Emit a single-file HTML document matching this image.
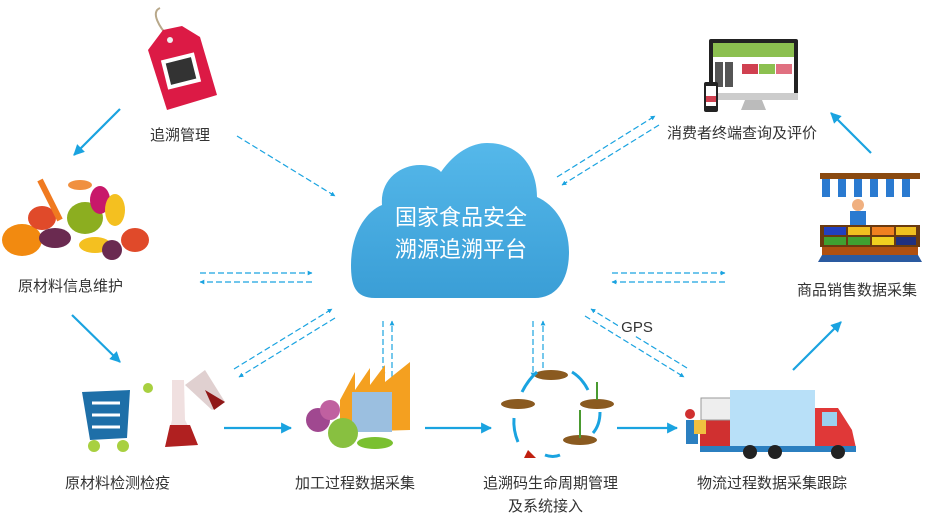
<!DOCTYPE html>
<html><head><meta charset="utf-8"><style>
html,body{margin:0;padding:0;background:#fff;}
svg text{font-family:"Liberation Sans","Noto Sans CJK SC",sans-serif;}
</style></head><body>
<svg width="925" height="513" viewBox="0 0 925 513" xmlns="http://www.w3.org/2000/svg">
<defs>
<marker id="a" viewBox="0 0 10 10" refX="9" refY="5" markerWidth="5" markerHeight="5" orient="auto"><path d="M0,0L10,5L0,10z" fill="#1aa3e0"/></marker>
<marker id="d" viewBox="0 0 10 10" refX="9" refY="5" markerWidth="4" markerHeight="4" orient="auto"><path d="M0,0L10,5L0,10z" fill="#1aa3e0"/></marker>
<linearGradient id="cg" x1="0" y1="0" x2="0" y2="1"><stop offset="0" stop-color="#55b8ea"/><stop offset="1" stop-color="#3a9ed6"/></linearGradient>
</defs>
<!-- cloud -->
<path d="M375,298 C355,298 351,285 351,265 C351,235 365,212 382,205 C380,180 400,165 420,165 C430,165 438,168 441,172 C455,152 472,143 487,143 C520,143 537,168 537,197 C555,205 569,225 569,252 C569,282 555,298 535,298 Z" fill="url(#cg)"/>
<text x="461" y="225" fill="#fff" font-size="22" text-anchor="middle">国家食品安全</text>
<text x="461" y="257" fill="#fff" font-size="22" text-anchor="middle">溯源追溯平台</text>
<!-- solid arrows -->
<g stroke="#1aa3e0" stroke-width="2.2" fill="none" marker-end="url(#a)">
<line x1="120" y1="109" x2="74" y2="155"/>
<line x1="72" y1="315" x2="120" y2="362"/>
<line x1="224" y1="428" x2="291" y2="428"/>
<line x1="425" y1="428" x2="491" y2="428"/>
<line x1="617" y1="428" x2="677" y2="428"/>
<line x1="793" y1="370" x2="841" y2="322"/>
<line x1="871" y1="153" x2="831" y2="113"/>
</g>
<!-- dashed -->
<g stroke="#1aa3e0" stroke-width="1.2" stroke-dasharray="6,3" fill="none" marker-end="url(#d)">
<line x1="237" y1="136" x2="335" y2="196"/>
<line x1="557" y1="177" x2="655" y2="116"/>
<line x1="659" y1="125" x2="562" y2="185"/>
<line x1="200" y1="273" x2="312" y2="273"/>
<line x1="312" y1="282" x2="200" y2="282"/>
<line x1="612" y1="273" x2="725" y2="273"/>
<line x1="725" y1="282" x2="612" y2="282"/>
<line x1="234" y1="369" x2="332" y2="309"/>
<line x1="335" y1="318" x2="239" y2="377"/>
<line x1="383" y1="321" x2="383" y2="377"/>
<line x1="392" y1="377" x2="392" y2="321"/>
<line x1="533" y1="321" x2="533" y2="377"/>
<line x1="543" y1="377" x2="543" y2="321"/>
<line x1="687" y1="368" x2="591" y2="309"/>
<line x1="585" y1="316" x2="684" y2="377"/>
</g>
<rect x="618" y="316" width="40" height="20" fill="#fff"/>
<text x="637" y="332" font-size="15" fill="#333" text-anchor="middle">GPS</text>
<!-- tag -->
<path d="M160,8 C150,12 160,28 168,36" stroke="#b8a88a" stroke-width="2" fill="none"/>
<polygon points="148,50 163,30 182,26 200,37 217,95 167,110" fill="#dc1a45"/>
<circle cx="170" cy="40" r="3" fill="#eee"/>
<rect x="164" y="56" width="34" height="30" fill="#fff" transform="rotate(-14 181 71)"/>
<rect x="168" y="60" width="26" height="22" fill="#333" transform="rotate(-14 181 71)"/>
<!-- vegetables -->
<ellipse cx="22" cy="240" rx="20" ry="16" fill="#f28a10"/>
<ellipse cx="42" cy="218" rx="14" ry="12" fill="#e04a2a"/>
<ellipse cx="85" cy="218" rx="18" ry="16" fill="#8cae20"/>
<ellipse cx="55" cy="238" rx="16" ry="10" fill="#6a2a50"/>
<ellipse cx="100" cy="200" rx="10" ry="14" fill="#c8186a"/>
<ellipse cx="115" cy="210" rx="10" ry="16" fill="#f4c020"/>
<ellipse cx="135" cy="240" rx="14" ry="12" fill="#e04a2a"/>
<ellipse cx="95" cy="245" rx="16" ry="8" fill="#f4c020"/>
<ellipse cx="80" cy="185" rx="12" ry="5" fill="#f09040"/>
<line x1="40" y1="180" x2="60" y2="220" stroke="#f07a20" stroke-width="6"/>
<ellipse cx="112" cy="250" rx="10" ry="10" fill="#6a2a50"/>
<!-- cart & flask -->
<path d="M82,392 L130,390 L127,438 L90,440 Z" fill="#1e6fa8"/>
<g stroke="#fff" stroke-width="3"><line x1="92" y1="403" x2="120" y2="403"/><line x1="92" y1="415" x2="120" y2="415"/><line x1="92" y1="427" x2="120" y2="427"/></g>
<circle cx="94" cy="446" r="6" fill="#a8d040"/><circle cx="123" cy="446" r="6" fill="#a8d040"/><circle cx="148" cy="388" r="5" fill="#a8d040"/>
<path d="M172,380 L184,380 L185,420 L198,445 L165,447 L172,420 Z" fill="#f0e0e0"/>
<path d="M170,425 L190,425 L198,445 L165,447 Z" fill="#b02020"/>
<path d="M185,385 L205,370 L225,402 L212,410 Z" fill="#e0d0d0"/><path d="M205,390 L225,402 L214,410 Z" fill="#901818"/>
<!-- factory -->
<path d="M340,400 L355,372 L355,390 L370,368 L370,385 L385,365 L385,382 L410,362 L410,430 L340,432 Z" fill="#f4a020"/>
<rect x="352" y="392" width="40" height="40" fill="#9bbfe0"/>
<circle cx="318" cy="420" r="12" fill="#a04890"/><circle cx="330" cy="410" r="10" fill="#c060a0"/>
<circle cx="343" cy="433" r="15" fill="#88c040"/><ellipse cx="375" cy="443" rx="18" ry="6" fill="#7ac030"/>
<!-- lifecycle -->
<g fill="#8a5a20"><ellipse cx="551" cy="375" rx="17" ry="5"/><ellipse cx="518" cy="404" rx="17" ry="5"/><ellipse cx="597" cy="404" rx="17" ry="5"/><ellipse cx="580" cy="440" rx="17" ry="5"/></g>
<path d="M528,450 L536,458 L524,458 Z" fill="#c02010"/>
<g stroke="#1aa3e0" stroke-width="3" fill="none"><path d="M522,392 Q528,380 537,372"/><path d="M572,372 Q582,378 588,390"/><path d="M600,412 Q600,425 593,433"/><path d="M514,418 Q513,430 518,442"/><path d="M545,455 Q553,458 560,455"/></g>
<line x1="580" y1="438" x2="580" y2="410" stroke="#4a9a30" stroke-width="2"/><line x1="597" y1="400" x2="597" y2="382" stroke="#4a9a30" stroke-width="2"/>
<!-- truck -->
<rect x="700" y="420" width="30" height="30" fill="#d03030"/>
<rect x="701" y="398" width="30" height="22" fill="#eee" stroke="#999"/>
<rect x="730" y="390" width="85" height="58" fill="#b8e0f8"/>
<path d="M815,408 L838,408 L852,430 L856,448 L815,448 Z" fill="#e03838"/>
<rect x="822" y="412" width="15" height="14" fill="#9cd0ee"/>
<rect x="700" y="446" width="156" height="6" fill="#2b7fc0"/>
<g fill="#222"><circle cx="750" cy="452" r="7"/><circle cx="775" cy="452" r="7"/><circle cx="838" cy="452" r="7"/></g>
<rect x="686" y="420" width="12" height="24" fill="#2b7fc0"/><circle cx="690" cy="414" r="5" fill="#d03030"/><rect x="694" y="420" width="12" height="14" fill="#f0c040"/>
<!-- monitor -->
<rect x="709" y="39" width="89" height="61" rx="2" fill="#222"/>
<rect x="713" y="43" width="81" height="50" fill="#fff"/>
<rect x="713" y="43" width="81" height="14" fill="#8cc050"/>
<rect x="715" y="62" width="8" height="25" fill="#555"/><rect x="725" y="62" width="8" height="25" fill="#555"/>
<rect x="742" y="64" width="16" height="10" fill="#d04050"/><rect x="759" y="64" width="16" height="10" fill="#8cc050"/><rect x="776" y="64" width="16" height="10" fill="#e07080"/>
<rect x="709" y="93" width="89" height="7" fill="#ccc"/>
<path d="M745,100 L762,100 L766,110 L741,110 Z" fill="#bbb"/>
<rect x="704" y="82" width="14" height="30" rx="2" fill="#222"/><rect x="706" y="86" width="10" height="20" fill="#fff"/><rect x="706" y="96" width="10" height="6" fill="#d04050"/>
<!-- stall -->
<rect x="820" y="173" width="100" height="6" fill="#8a4a10"/>
<g><rect x="820" y="179" width="100" height="18" fill="#fff"/>
<g fill="#2a7ad0"><rect x="822" y="179" width="8" height="18"/><rect x="838" y="179" width="8" height="18"/><rect x="854" y="179" width="8" height="18"/><rect x="870" y="179" width="8" height="18"/><rect x="886" y="179" width="8" height="18"/><rect x="902" y="179" width="8" height="18"/></g></g>
<circle cx="858" cy="205" r="6" fill="#f0b080"/><rect x="850" y="211" width="16" height="14" fill="#2a7ad0"/>
<rect x="820" y="225" width="100" height="22" fill="#6a3a10"/>
<rect x="824" y="227" width="22" height="8" fill="#2040c0"/><rect x="848" y="227" width="22" height="8" fill="#f0c020"/><rect x="872" y="227" width="22" height="8" fill="#f08020"/><rect x="896" y="227" width="20" height="8" fill="#f0c020"/>
<rect x="824" y="237" width="22" height="8" fill="#40a030"/><rect x="848" y="237" width="22" height="8" fill="#40a030"/><rect x="872" y="237" width="22" height="8" fill="#f0d020"/><rect x="896" y="237" width="20" height="8" fill="#203080"/>
<rect x="822" y="247" width="96" height="8" fill="#b05010"/><path d="M818,262 L922,262 L918,255 L822,255 Z" fill="#2a5aa0"/>
<!-- labels -->
<g font-size="15" fill="#333">
<text x="150" y="140">追溯管理</text>
<text x="18" y="291">原材料信息维护</text>
<text x="65" y="488">原材料检测检疫</text>
<text x="295" y="488">加工过程数据采集</text>
<text x="483" y="488">追溯码生命周期管理</text>
<text x="508" y="511">及系统接入</text>
<text x="697" y="488">物流过程数据采集跟踪</text>
<text x="797" y="295">商品销售数据采集</text>
<text x="667" y="138">消费者终端查询及评价</text>
</g>
</svg>
</body></html>
